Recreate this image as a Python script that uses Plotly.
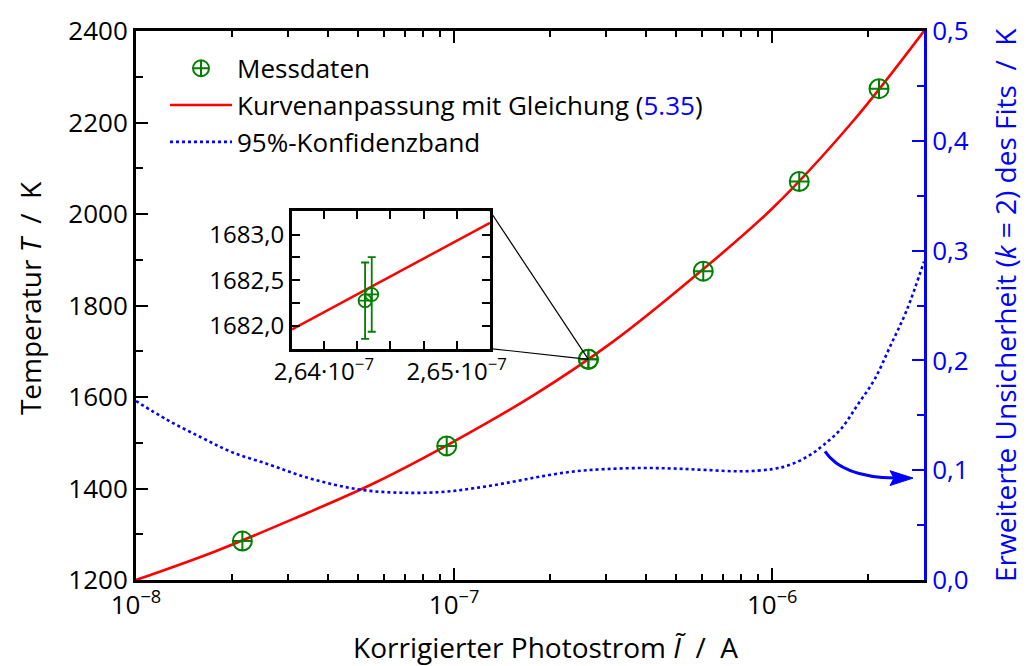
import math
import plotly.graph_objects as go

# ---------------- data ----------------
meas_I = [2.16e-8, 9.48e-8, 2.6431e-7, 2.6436e-7, 6.07e-7, 1.216e-6, 2.166e-6]
meas_T = [1285, 1493, 1682.28, 1682.34, 1875, 2071, 2274]

fit_I = [1.0e-8, 1.78e-8, 3.16e-8, 5.62e-8, 1.0e-7, 1.78e-7, 3.16e-7, 5.62e-7,
         1.0e-6, 1.78e-6, 3.0e-6]
fit_T = [1200, 1263, 1335, 1412, 1503, 1604, 1721, 1860, 2012, 2200, 2400]

band_I = [1.0e-8, 1.25e-8, 1.6e-8, 2.0e-8, 2.6e-8, 3.3e-8, 4.2e-8, 5.3e-8, 6.8e-8,
          9.0e-8, 1.15e-7, 1.5e-7, 1.9e-7, 2.4e-7, 3.0e-7, 3.9e-7, 4.9e-7, 6.2e-7,
          8.0e-7, 1.0e-6, 1.14e-6, 1.3e-6, 1.45e-6, 1.65e-6, 1.85e-6, 2.1e-6,
          2.35e-6, 2.65e-6, 3.0e-6]
band_U = [0.163, 0.146, 0.130, 0.1165, 0.1055, 0.0950, 0.0868, 0.0815, 0.0795,
          0.0800, 0.0835, 0.0890, 0.0946, 0.0990, 0.1010, 0.1020, 0.1015, 0.1002,
          0.0990, 0.1010, 0.1050, 0.1130, 0.1230, 0.1380, 0.1590, 0.1830,
          0.2130, 0.2460, 0.290]

inset_I = [2.6431e-7, 2.6436e-7]
inset_T = [1682.275, 1682.344]
inset_err = [0.42, 0.41]
inset_fit_I = [2.6376e-7, 2.6525e-7]
inset_fit_T = [1681.96, 1683.13]

x_major = [1e-8, 1e-7, 1e-6]
x_major_text = ["10<sup>−8</sup>", "10<sup>−7</sup>", "10<sup>−6</sup>"]
x_minor = [m * d for d in (1e-8, 1e-7, 1e-6) for m in range(2, 10) if m * d <= 3e-6]
inset_x_ticks = [2.64e-7, 2.65e-7]
inset_x_text = ["2,64·10<sup>−7</sup>", "2,65·10<sup>−7</sup>"]

X_RANGE = [-8, math.log10(3e-6)]
Y_RANGE = [1200, 2400]
Y2_RANGE = [0, 0.5]

FONT = "Open Sans"
GREEN = "#008000"
RED = "#ff0000"
BLUE = "#0000ff"

fig = go.Figure()

fig.add_trace(go.Scatter(
    x=band_I, y=band_U, mode="lines", yaxis="y2", xaxis="x",
    line=dict(color=BLUE, width=2.6, dash="dot", shape="spline", smoothing=1.0),
    name="95%-Konfidenzband", legendrank=3))

fig.add_trace(go.Scatter(
    x=fit_I, y=fit_T, mode="lines",
    line=dict(color=RED, width=2.6, shape="spline"),
    name="Kurvenanpassung mit Gleichung (<span style='color:#0000ff'>5.35</span>)",
    legendrank=2))

fig.add_trace(go.Scatter(
    x=meas_I, y=meas_T, mode="markers",
    marker=dict(symbol="circle-cross-open", size=19, color=GREEN,
                line=dict(color=GREEN, width=2)),
    name="Messdaten", legendrank=1))

# inset
fig.add_trace(go.Scatter(
    x=inset_fit_I, y=inset_fit_T, mode="lines", xaxis="x3", yaxis="y3",
    line=dict(color=RED, width=2.5), showlegend=False))
fig.add_trace(go.Scatter(
    x=inset_I, y=inset_T, mode="markers", xaxis="x3", yaxis="y3",
    marker=dict(symbol="circle-cross-open", size=13, color=GREEN,
                line=dict(color=GREEN, width=1.8)),
    error_y=dict(type="data", array=inset_err, color=GREEN, thickness=1.8, width=4),
    showlegend=False))

# ---- positions ----
L, R, T, B = 136, 107, 25, 86
W, H = 1031, 666
PW, PH = W - L - R, H - T - B


def px(xp):
    return (xp - L) / PW


def py(yp):
    return (H - B - yp) / PH


inset_dom_x = [px(292), px(490)]
inset_dom_y = [py(346), py(207)]

# point in main plot that is magnified
pt_x = (math.log10(inset_I[0]) - X_RANGE[0]) / (X_RANGE[1] - X_RANGE[0])
pt_y = (inset_T[0] - Y_RANGE[0]) / (Y_RANGE[1] - Y_RANGE[0])

shapes = [
    dict(type="line", xref="paper", yref="paper", x0=inset_dom_x[1], y0=inset_dom_y[1],
         x1=pt_x, y1=pt_y, line=dict(color="black", width=1.2)),
    dict(type="line", xref="paper", yref="paper", x0=inset_dom_x[1], y0=inset_dom_y[0],
         x1=pt_x, y1=pt_y, line=dict(color="black", width=1.2)),
    # curved arrow
    dict(type="path", xref="paper", yref="paper",
         path=f"M {px(825)},{py(450)} Q {px(842)},{py(476)} {px(895)},{py(477)}",
         line=dict(color=BLUE, width=3)),
    dict(type="path", xref="paper", yref="paper",
         path=(f"M {px(913)},{py(477)} L {px(890)},{py(469.5)} "
               f"L {px(894)},{py(477)} L {px(890)},{py(484.5)} Z"),
         fillcolor=BLUE, line=dict(color=BLUE, width=1)),
]

tickfont = dict(family=FONT, size=26, color="black")

fig.update_layout(
    width=W, height=H,
    margin=dict(l=L, r=R, t=T, b=B, pad=0),
    paper_bgcolor="white", plot_bgcolor="white",
    separators=",.",
    font=dict(family=FONT, size=24, color="black"),
    showlegend=True,
    legend=dict(x=px(165), y=py(39), xanchor="left", yanchor="top",
                bgcolor="rgba(0,0,0,0)", borderwidth=0,
                font=dict(family=FONT, size=26, color="black"),
                tracegroupgap=0, itemwidth=62),
    xaxis=dict(type="log", range=X_RANGE, tickmode="array", tickvals=x_major,
               ticktext=x_major_text, ticks="inside", ticklen=12, tickwidth=2,
               tickcolor="black", showline=True, linewidth=3, linecolor="black",
               mirror="ticks", showgrid=False, zeroline=False, tickfont=tickfont,
               minor=dict(tickmode="array", tickvals=x_minor, ticks="inside",
                          ticklen=6, tickwidth=2, tickcolor="black", showgrid=False)),
    yaxis=dict(range=Y_RANGE, tickmode="linear", tick0=1200, dtick=200,
               ticks="inside", ticklen=12, tickwidth=2, tickcolor="black",
               showline=True, linewidth=3, linecolor="black", showgrid=False,
               zeroline=False, tickfont=tickfont,
               minor=dict(dtick=100, tick0=1200, ticks="inside", ticklen=7,
                          tickwidth=2, tickcolor="black", showgrid=False)),
    yaxis2=dict(range=Y2_RANGE, overlaying="y", side="right", anchor="x",
                tickmode="linear", tick0=0, dtick=0.1, tickformat=".1f",
                ticks="inside", ticklen=12, tickwidth=2, tickcolor=BLUE,
                showline=True, linewidth=3, linecolor=BLUE, showgrid=False,
                zeroline=False, tickfont=dict(family=FONT, size=26, color=BLUE),
                minor=dict(dtick=0.05, tick0=0, ticks="inside", ticklen=7,
                           tickwidth=2, tickcolor=BLUE, showgrid=False)),
    xaxis3=dict(domain=inset_dom_x, anchor="y3", range=inset_fit_I,
                tickmode="array", tickvals=inset_x_ticks, ticktext=inset_x_text,
                ticks="inside", ticklen=8, tickwidth=2, tickcolor="black",
                showline=True, linewidth=3, linecolor="black", mirror="ticks",
                showgrid=False, zeroline=False,
                tickfont=dict(family=FONT, size=24, color="black"),
                minor=dict(dtick=0.25e-9, tick0=2.64e-7, ticks="inside", ticklen=8,
                           tickwidth=2, tickcolor="black", showgrid=False)),
    yaxis3=dict(domain=inset_dom_y, anchor="x3", range=[1681.75, 1683.26],
                tickmode="linear", tick0=1682, dtick=0.5, tickformat=".1f",
                ticks="inside", ticklen=8, tickwidth=2, tickcolor="black",
                showline=True, linewidth=3, linecolor="black", mirror="ticks",
                showgrid=False, zeroline=False,
                tickfont=dict(family=FONT, size=24, color="black"),
                minor=dict(dtick=0.25, tick0=1682, ticks="inside", ticklen=8,
                           tickwidth=2, tickcolor="black", showgrid=False)),
    shapes=shapes,
    annotations=[
        dict(text="Korrigierter Photostrom <i>Ĩ</i>  /  A", xref="paper", yref="paper",
             x=px(545), y=py(648), xanchor="center", yanchor="middle",
             showarrow=False, font=dict(family=FONT, size=28, color="black")),
        dict(text="Temperatur <i>T</i>  /  K", xref="paper", yref="paper",
             x=px(30), y=py(295), xanchor="center", yanchor="middle", textangle=-90,
             showarrow=False, font=dict(family=FONT, size=28, color="black")),
        dict(text="Erweiterte Unsicherheit (<i>k</i> = 2) des Fits  /  K",
             xref="paper", yref="paper", x=px(1005), y=py(302),
             xanchor="center", yanchor="middle", textangle=-90, showarrow=False,
             font=dict(family=FONT, size=28, color=BLUE)),
    ],
)

fig.write_html("out.html")
